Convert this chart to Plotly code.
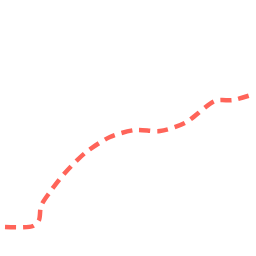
import plotly.graph_objects as go

x_vals = [5, 33, 39, 41, 50, 64, 85, 110, 135, 160, 185, 215, 233, 251]
y_vals = [29, 30, 36, 50, 64, 82, 103, 119, 126, 125, 133, 155, 156, 161]

fig = go.Figure()
fig.add_trace(go.Scatter(
    x=x_vals, y=y_vals, mode="lines",
    line=dict(color="#FF6459", width=4.5, dash="11px,7px", shape="spline", smoothing=0.8),
    hoverinfo="skip"))
fig.update_layout(
    width=256, height=256, margin=dict(l=0, r=0, t=0, b=0),
    paper_bgcolor="white", plot_bgcolor="white", showlegend=False,
    xaxis=dict(range=[0, 256], visible=False),
    yaxis=dict(range=[0, 256], visible=False))
fig.write_html("out.html")
